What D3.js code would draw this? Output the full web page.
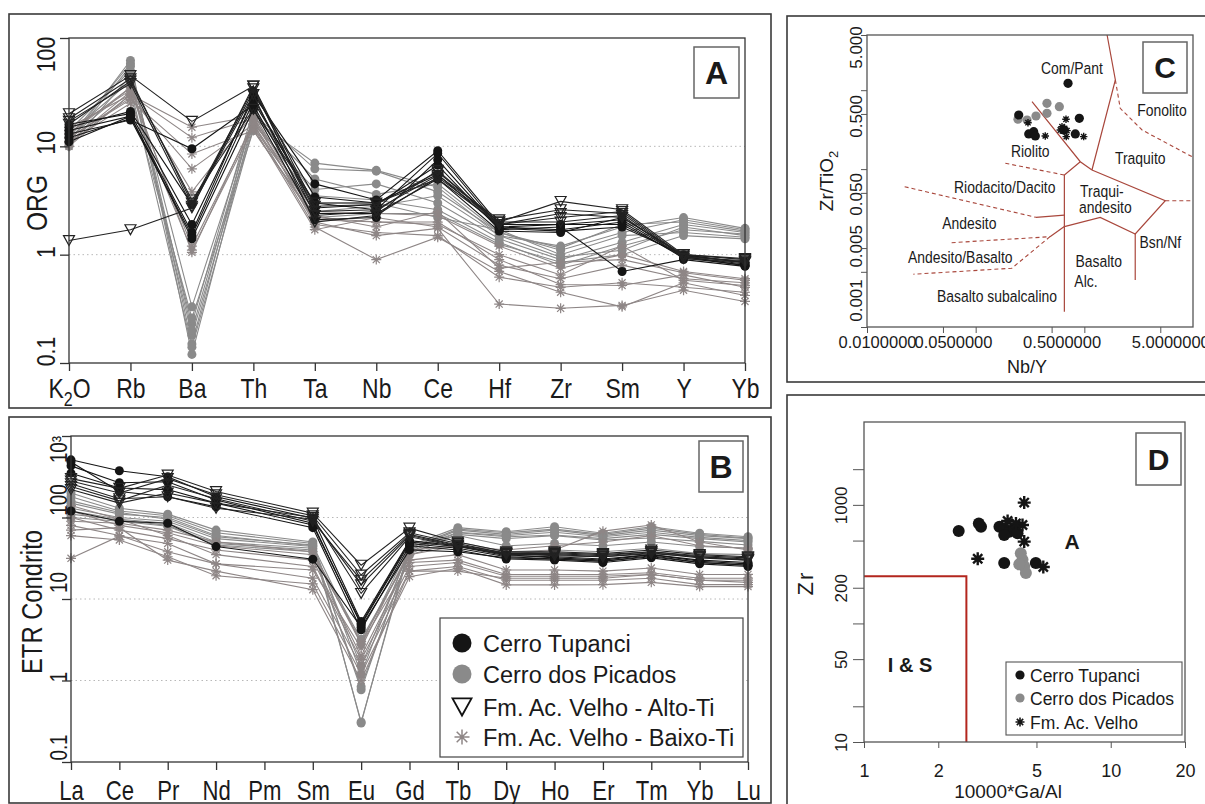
<!DOCTYPE html>
<html>
<head>
<meta charset="utf-8">
<script src="https://cdn.jsdelivr.net/npm/d3@7"></script>
<style>
  body { margin: 0; background: #fff; }
  svg text { font-family: 'Liberation Sans', Arial, sans-serif; fill: #1a1a1a; }
</style>
</head>
<body>
<div id="chart"></div>
<script>
// ---------- data: panel A (ORG normalised spider) ----------
var orgElements = ["K2O", "Rb", "Ba", "Th", "Ta", "Nb", "Ce", "Hf", "Zr", "Sm", "Y", "Yb"];

var orgTupanci = [
  [14, 19, 1.6, 30, 4.5, 3.2, 9.1, 1.9, 1.9, 2.1, 0.95, 0.82],
  [12, 18, 1.5, 26, 3.0, 2.6, 8.6, 1.8, 1.7, 2.0, 0.93, 0.80],
  [16, 20, 1.9, 28, 2.7, 2.9, 6.7, 1.7, 1.8, 0.70, 0.90, 0.78],
  [13, 17.5, 9.5, 24, 2.4, 2.4, 5.0, 1.65, 1.6, 2.2, 0.98, 0.85],
  [15, 21, 2.9, 32, 3.4, 3.0, 5.5, 1.8, 1.9, 1.9, 0.96, 0.79],
  [11, 19, 1.4, 22, 2.1, 2.2, 7.5, 1.75, 1.65, 1.8, 1.0, 0.84]
];
var orgPicados = [
  [11, 62, 0.12, 18, 7.0, 6.0, 4.2, 1.5, 1.2, 1.8, 2.2, 1.75],
  [12, 58, 0.15, 20, 6.2, 5.9, 3.8, 1.6, 1.1, 1.6, 2.1, 1.7],
  [10, 45, 0.18, 16, 4.0, 4.5, 3.0, 1.4, 0.9, 1.3, 1.9, 1.6],
  [13, 40, 0.23, 22, 3.5, 3.2, 2.6, 1.3, 0.8, 1.2, 1.7, 1.55],
  [14, 50, 0.33, 18, 3.0, 3.0, 2.2, 1.7, 1.0, 1.5, 1.6, 1.45],
  [12, 35, 0.14, 15, 2.5, 2.8, 3.5, 1.5, 0.95, 1.1, 1.8, 1.5],
  [11, 55, 0.20, 19, 5.0, 3.6, 4.5, 1.6, 1.15, 1.9, 2.0, 1.65],
  [10.5, 30, 0.26, 14, 2.2, 2.4, 2.4, 1.25, 0.85, 1.0, 1.5, 1.4]
];
var orgAltoTi = [
  [20, 45, 17, 36, 2.8, 2.9, 5.8, 2.0, 3.1, 2.6, 1.0, 0.9],
  [18, 42, 3.0, 34, 2.5, 2.6, 5.4, 2.1, 2.6, 2.4, 0.95, 0.88],
  [1.35, 1.7, 2.7, 36, 2.3, 2.5, 6.0, 1.9, 2.2, 2.5, 0.97, 0.86],
  [16, 40, 3.2, 22, 3.0, 3.0, 5.0, 1.9, 2.4, 2.2, 1.0, 0.92],
  [17, 38, 2.8, 30, 2.0, 2.3, 5.2, 2.0, 2.0, 2.3, 0.92, 0.85]
];
var orgBaixoTi = [
  [10, 30, 12, 18, 2.0, 1.5, 1.75, 0.35, 0.32, 0.34, 0.47, 0.37],
  [12, 28, 6.2, 16, 1.8, 0.9, 1.45, 0.7, 0.45, 0.33, 0.55, 0.42],
  [14, 33, 3.8, 20, 2.2, 2.0, 2.0, 0.9, 0.53, 0.52, 0.65, 0.5],
  [11, 25, 1.1, 15, 1.7, 2.2, 1.8, 0.8, 0.6, 0.8, 0.6, 0.55],
  [13, 35, 1.05, 17, 2.5, 2.4, 2.3, 1.2, 0.75, 1.0, 0.7, 0.6],
  [15, 30, 15, 19, 1.9, 1.6, 1.5, 0.62, 0.5, 0.55, 0.5, 0.45],
  [12, 27, 8.5, 14, 2.1, 2.0, 1.9, 1.0, 0.65, 1.2, 0.58, 0.52],
  [11, 32, 1.2, 16, 2.3, 1.8, 2.5, 0.75, 0.85, 0.9, 0.68, 0.58]
];

// ---------- data: panel B (chondrite normalised REE) ----------
var reeElements = ["La", "Ce", "Pr", "Nd", "Pm", "Sm", "Eu", "Gd", "Tb", "Dy", "Ho", "Er", "Tm", "Yb", "Lu"];

var reeTupanci = [
  [510, 375, 317, 180, null, 98, 5.3, 52, 45, 35, 32, 30, 35, 29, 27],
  [430, 267, 275, 164, null, 85, 4.8, 48, 42, 33, 31, 29, 33, 28, 26],
  [480, 208, 180, 135, null, 75, 4.2, 45, 40, 31, 30, 28, 32, 27, 25],
  [120, 90, 85, 44, null, 30.7, 4.5, 40, 38, 32, 31, 29, 34, 28, 26],
  [350, 230, 220, 150, null, 81, 5.0, 50, 44, 34, 33, 31, 35, 30, 28]
];
var reePicados = [
  [200, 130, 110, 70, null, 50, 0.30, 45, 75, 67, 77, 64, 77, 64, 58],
  [150, 110, 100, 60, null, 45, 0.31, 40, 70, 62, 70, 60, 70, 60, 55],
  [120, 95, 85, 50, null, 42, 0.77, 38, 65, 58, 61, 55, 62, 55, 50],
  [110, 93, 80, 48, null, 40, 0.84, 36, 62, 55, 60, 53, 56, 51, 46],
  [180, 120, 105, 65, null, 48, 1.2, 42, 72, 65, 72, 62, 74, 62, 56],
  [130, 100, 90, 55, null, 44, 1.5, 40, 66, 60, 66, 58, 66, 57, 52],
  [160, 115, 95, 58, null, 46, 2.8, 44, 60, 45, 48, 45, 50, 44, 42],
  [100, 90, 78, 46, null, 38, 3.2, 35, 50, 38, 40, 38, 42, 36, 35]
];
var reeAltoTi = [
  [300, 228, 332, 208, null, 113, 26, 74, 50, 38, 38, 36, 40, 35, 33],
  [280, 200, 300, 190, null, 105, 19.7, 65, 48, 36, 36, 34, 38, 33, 31],
  [260, 170, 180, 130, null, 95, 14.9, 60, 45, 35, 35, 33, 37, 32, 30],
  [220, 150, 200, 150, null, 100, 11.7, 58, 44, 36, 34, 33, 36, 33, 30],
  [240, 160, 250, 170, null, 90, 17, 62, 46, 37, 37, 35, 38, 34, 32]
];
var reeBaixoTi = [
  [31.6, 59, 48, 27, null, 22.7, 2.5, 40, 45, 35, 40, 68, 81, 50, 40],
  [60, 53, 33, 19.3, null, 15.3, 1.2, 18.8, 23.8, 14.9, 14.9, 15, 16, 14.2, 14.2],
  [80, 60, 38, 27, null, 18, 1.5, 22, 25, 17, 17, 17, 18, 15, 15],
  [100, 70, 55, 40, null, 30, 2.0, 30, 35, 22.7, 22.7, 22, 24, 20, 20],
  [120, 80, 65, 45, null, 35, 3.0, 35, 45, 40, 45, 50, 60, 45, 42],
  [70, 75, 30, 22, null, 13, 1.0, 22, 22, 18, 18, 18, 20, 17, 16],
  [90, 85, 70, 50, null, 38, 2.8, 28, 30, 20, 20, 20, 21, 18, 18],
  [140, 95, 60, 35, null, 25, 1.8, 25, 28, 19, 19, 19, 20, 17, 17]
];

// ---------- data: panel C (Nb/Y vs Zr/TiO2) ----------
var cTupanciX = [0.708, 0.899, 0.249, 0.308, 0.342, 0.354, 0.826, 0.646];
var cTupanciY = [1.22, 0.44, 0.485, 0.279, 0.298, 0.263, 0.279, 0.313];
var cPicadosX = [0.453, 0.589, 0.453, 0.359, 0.297, 0.245];
var cPicadosY = [0.682, 0.618, 0.509, 0.471, 0.419, 0.428];
var cVelhoX = [0.303, 0.437, 0.678, 0.623, 0.659, 0.692, 0.682, 0.986, 0.601];
var cVelhoY = [0.387, 0.263, 0.428, 0.344, 0.329, 0.307, 0.258, 0.258, 0.313];

// field boundaries (Nb/Y, Zr/TiO2)
var fieldSolid = [
  [[0.33, 0.714], [0.918, 0.124], [1.175, 0.0975]],
  [[1.62, 5], [1.93, 1.35], [1.175, 0.0975]],
  [[1.175, 0.0975], [5.56, 0.0398], [2.94, 0.01506], [1.40, 0.0245], [0.655, 0.0187]],
  [[0.918, 0.124], [0.655, 0.0842], [0.655, 0.00156]],
  [[2.94, 0.01506], [2.94, 0.00394]],
  [[0.359, 0.0245], [0.655, 0.0262]],
  [[0.483, 0.01393], [0.655, 0.0187]]
];
var fieldDashed = [
  [[0.1875, 0.1186], [0.655, 0.0842]],
  [[0.0222, 0.0598], [0.359, 0.0245]],
  [[0.0601, 0.0117], [0.483, 0.01393]],
  [[0.483, 0.01393], [0.215, 0.00555], [0.0267, 0.00466]],
  [[1.93, 1.35], [2.14, 0.589], [3.40, 0.313], [9.8, 0.1436]],
  [[5.56, 0.0398], [10, 0.0398]]
];
var fieldNames = ["Com/Pant", "Fonolito", "Riolito", "Traquito", "Riodacito/Dacito", "Traqui-", "andesito",
  "Andesito", "Bsn/Nf", "Andesito/Basalto", "Basalto", "Alc.", "Basalto subalcalino"];
var fieldNameX = [0.769, 5.18, 0.318, 3.27, 0.185, 1.45, 1.56, 0.0874, 5.0, 0.0722, 1.355, 1.035, 0.157];
var fieldNameY = [1.89, 0.561, 0.171, 0.1396, 0.0589, 0.0530, 0.0330, 0.0206, 0.01205, 0.00778, 0.00692, 0.00385, 0.00249];

// ---------- data: panel D (Ga/Al vs Zr) ----------
var dTupanciX = [2.42, 2.92, 2.98, 3.54, 3.70, 3.88, 4.06, 4.19, 3.70, 3.70, 4.97];
var dTupanciY = [602, 698, 655, 655, 626, 594, 634, 575, 558, 323, 323];
var dPicadosX = [4.32, 4.39, 4.46, 4.53, 4.26];
var dPicadosY = [391, 345, 303, 266, 315];
var dVelhoX = [4.46, 3.82, 4.39, 4.46, 2.89, 5.33, 4.13];
var dVelhoY = [1045, 731, 676, 490, 351, 299, 698];
var isBoundary = [[1, 250], [2.6, 250], [2.6, 10]];

// ---------- drawing ----------
var BLACK = "#151515", GREY = "#8a8a8a", STARGREY = "#8e8686", FIELD = "#a9473c", FIELDTXT = "#9c2a24", RED = "#b3261e";
var NARROW = " scale(0.82,1)";   // condensed look of the original lettering

var svg = d3.select("#chart").append("svg")
  .attr("width", 1205)
  .attr("height", 804);

// outer panel boxes
[[9, 14, 762, 394], [9, 417, 762, 386], [787, 16, 440, 366], [787, 395, 440, 430]].forEach(function(b) {
  svg.append("rect").attr("x", b[0]).attr("y", b[1]).attr("width", b[2]).attr("height", b[3])
    .attr("fill", "none").attr("stroke", "#3a3a3a").attr("stroke-width", 1.6);
});

function marker(g, type, cx, cy, s, color, sw) {
  if (type === "circle") {
    g.append("circle").attr("cx", cx).attr("cy", cy).attr("r", s).attr("fill", color);
  } else if (type === "tri") {
    var h = s * 0.9;
    g.append("path")
      .attr("d", "M" + (cx - s / 2) + "," + (cy - h / 2) + "L" + (cx + s / 2) + "," + (cy - h / 2) + "L" + cx + "," + (cy + h / 2) + "Z")
      .attr("fill", "none").attr("stroke", color).attr("stroke-width", sw || 1.2);
  } else {
    var r = s / 2, d = "";
    [0, 45, 90, 135].forEach(function(a) {
      var rad = a * Math.PI / 180, dx = r * Math.cos(rad), dy = r * Math.sin(rad);
      d += "M" + (cx - dx) + "," + (cy - dy) + "L" + (cx + dx) + "," + (cy + dy);
    });
    g.append("path").attr("d", d).attr("stroke", color).attr("stroke-width", sw || 1.2).attr("fill", "none");
  }
}

function letterBox(x, y, w, h, letter, size) {
  svg.append("rect").attr("x", x).attr("y", y).attr("width", w).attr("height", h)
    .attr("fill", "#fff").attr("stroke", "#666").attr("stroke-width", 1.5);
  svg.append("text").attr("x", x + w / 2).attr("y", y + h / 2 + size * 0.36)
    .attr("text-anchor", "middle").attr("font-size", size).attr("font-weight", "bold").text(letter);
}

// spider diagram (panels A and B)
function spider(cfg) {
  var x = d3.scalePoint().domain(cfg.cats).range([cfg.x0, cfg.x1]);
  var y = d3.scaleLog().domain(cfg.domain).range([cfg.y1, cfg.y0]);
  var g = svg.append("g");

  g.selectAll(".grid").data(cfg.grid).enter().append("line")
    .attr("x1", cfg.x0).attr("x2", cfg.x1)
    .attr("y1", function(d) { return y(d); }).attr("y2", function(d) { return y(d); })
    .attr("stroke", "#b8b8b8").attr("stroke-dasharray", "1.5,3");

  var line = d3.line().x(function(p) { return x(p[0]); }).y(function(p) { return y(p[1]); });

  cfg.groups.forEach(function(grp) {
    grp.rows.forEach(function(row) {
      var pts = row.map(function(v, i) { return [cfg.cats[i], v]; })
        .filter(function(p) { return p[1] != null; });
      g.append("path").datum(pts).attr("d", line)
        .attr("fill", "none").attr("stroke", grp.line).attr("stroke-width", 1.1);
      pts.forEach(function(p) { marker(g, grp.marker, x(p[0]), y(p[1]), grp.size, grp.color); });
    });
  });

  // frame
  g.append("rect").attr("x", cfg.x0).attr("y", cfg.y0)
    .attr("width", cfg.x1 - cfg.x0).attr("height", cfg.y1 - cfg.y0)
    .attr("fill", "none").attr("stroke", "#333").attr("stroke-width", 1.3);

  // left axis
  var ya = g.append("g").attr("transform", "translate(" + cfg.x0 + ",0)")
    .call(d3.axisLeft(y).tickValues(cfg.ticks).tickSize(cfg.tickLen).tickFormat(cfg.tickFormat));
  ya.select(".domain").remove();
  ya.selectAll("line").attr("stroke", "#333").attr("stroke-width", 1.3);
  ya.selectAll("text")
    .attr("x", 0).attr("dy", null).attr("y", 0)
    .attr("text-anchor", "middle")
    .attr("font-size", cfg.tickFont)
    .attr("fill", "#1a1a1a")
    .attr("transform", function(d) { return "translate(" + cfg.labelX + "," + (cfg.shift[d] || 0) + ") rotate(-90)" + NARROW; });

  // bottom axis
  var xa = g.append("g").attr("transform", "translate(0," + cfg.y1 + ")")
    .call(d3.axisBottom(x).tickSize(8));
  xa.select(".domain").remove();
  xa.selectAll("line").attr("stroke", "#333").attr("stroke-width", 1.3);
  xa.selectAll("text")
    .attr("y", cfg.catY - cfg.y1).attr("dy", null)
    .attr("font-size", cfg.catFont)
    .attr("fill", "#1a1a1a")
    .attr("transform", NARROW)
    .each(function(d) {
      if (d === "K2O") {
        var t = d3.select(this).text("K");
        t.append("tspan").attr("dy", 8).attr("font-size", cfg.catFont * 0.7).text("2");
        t.append("tspan").attr("dy", -8).text("O");
      }
    });

  // axis title
  svg.append("text")
    .attr("transform", "translate(" + cfg.titleX + "," + cfg.titleY + ") rotate(-90)" + NARROW)
    .attr("text-anchor", "middle").attr("font-size", cfg.titleFont).text(cfg.title);
  return { x: x, y: y };
}

var groupsStyle = function(t, p, a, b) {
  return [
    { rows: p, marker: "circle", color: GREY, line: GREY, size: 4.5 },
    { rows: b, marker: "star", color: STARGREY, line: STARGREY, size: 10 },
    { rows: t, marker: "circle", color: BLACK, line: BLACK, size: 4.5 },
    { rows: a, marker: "tri", color: "#222", line: "#222", size: 11 }
  ];
};

spider({
  cats: orgElements, domain: [0.1, 100], x0: 69, x1: 745, y0: 38, y1: 363,
  grid: [1, 10], ticks: [0.1, 1, 10, 100], tickLen: 9,
  tickFormat: function(d) { return d < 1 ? "0.1" : String(d); },
  shift: { 100: 16, 10: -4, 1: -3, 0.1: -12 }, labelX: -14, tickFont: 26,
  catY: 398, catFont: 28,
  title: "ORG", titleX: 47, titleY: 203, titleFont: 30,
  groups: groupsStyle(orgTupanci, orgPicados, orgAltoTi, orgBaixoTi)
});
letterBox(694, 47, 45, 51, "A", 32);

spider({
  cats: reeElements, domain: [0.1, 1000], x0: 71, x1: 748, y0: 436, y1: 762,
  grid: [1, 10, 100], ticks: [0.1, 1, 10, 100, 1000], tickLen: 9,
  tickFormat: function(d) { return d === 1000 ? "10³" : (d < 1 ? "0.1" : String(d)); },
  shift: { 1000: 13, 100: -18, 10: -17, 1: -4, 0.1: -15 }, labelX: -4, tickFont: 23,
  catY: 800, catFont: 27,
  title: "ETR Condrito", titleX: 42, titleY: 602, titleFont: 29,
  groups: groupsStyle(reeTupanci, reePicados, reeAltoTi, reeBaixoTi)
});
letterBox(699, 441, 44, 51, "B", 32);

// legend B
var legB = svg.append("g");
legB.append("rect").attr("x", 440).attr("y", 618).attr("width", 303).attr("height", 139)
  .attr("fill", "#fff").attr("stroke", "#444").attr("stroke-width", 1.2);
var legBItems = ["Cerro Tupanci", "Cerro dos Picados", "Fm. Ac. Velho - Alto-Ti", "Fm. Ac. Velho - Baixo-Ti"];
var legBRows = [643, 674, 707, 737];
legBItems.forEach(function(name, i) {
  if (i === 0) marker(legB, "circle", 462, legBRows[i], 9.5, BLACK);
  if (i === 1) marker(legB, "circle", 462, legBRows[i], 9.5, GREY);
  if (i === 2) marker(legB, "tri", 462, legBRows[i], 19, "#111", 1.8);
  if (i === 3) marker(legB, "star", 462, legBRows[i], 15, STARGREY, 1.5);
  legB.append("text").attr("x", 483).attr("y", legBRows[i] + 8.5)
    .attr("font-size", 23.5).text(name);
});

// ---------- panel C ----------
var xC = d3.scaleLog().domain([0.01, 10]).range([867, 1193]);
var yC = d3.scaleLog().domain([0.001, 5]).range([327, 35]);
var gC = svg.append("g");
var lineC = d3.line().x(function(p) { return xC(p[0]); }).y(function(p) { return yC(p[1]); });

fieldSolid.forEach(function(seg) {
  gC.append("path").datum(seg).attr("d", lineC).attr("fill", "none")
    .attr("stroke", FIELD).attr("stroke-width", 1.2);
});
fieldDashed.forEach(function(seg) {
  gC.append("path").datum(seg).attr("d", lineC).attr("fill", "none")
    .attr("stroke", FIELD).attr("stroke-width", 1.1).attr("stroke-dasharray", "4,3");
});
fieldNames.forEach(function(name, i) {
  gC.append("text")
    .attr("transform", "translate(" + xC(fieldNameX[i]) + "," + yC(fieldNameY[i]) + ")" + NARROW)
    .attr("dy", "0.36em").attr("text-anchor", "middle")
    .attr("font-size", 17).attr("fill", FIELDTXT).text(name);
});

cPicadosX.forEach(function(v, i) { marker(gC, "circle", xC(v), yC(cPicadosY[i]), 4.6, GREY); });
cTupanciX.forEach(function(v, i) { marker(gC, "circle", xC(v), yC(cTupanciY[i]), 4.6, BLACK); });
cVelhoX.forEach(function(v, i) { marker(gC, "star", xC(v), yC(cVelhoY[i]), 7.5, BLACK, 1.4); });

gC.append("rect").attr("x", 867).attr("y", 35).attr("width", 326).attr("height", 292)
  .attr("fill", "none").attr("stroke", "#555").attr("stroke-width", 1.3);

var cYLabels = { 5: "5.000", 0.5: "0.500", 0.05: "0.050", 0.005: "0.005", 0.001: "0.001" };
var cYShift = { 5: 12, 0.5: 2, 0.05: 1, 0.005: -26, 0.001: -27 };
var yaC = gC.append("g").attr("transform", "translate(867,0)")
  .call(d3.axisLeft(yC).tickValues([0.001, 0.005, 0.01, 0.05, 0.1, 0.5, 1, 5]).tickSize(6)
    .tickFormat(function(d) { return cYLabels[d] || ""; }));
yaC.select(".domain").remove();
yaC.selectAll("line").attr("stroke", "#555");
yaC.selectAll("text").attr("x", 0).attr("y", 0).attr("dy", null)
  .attr("text-anchor", "middle").attr("font-size", 17).attr("fill", "#1a1a1a")
  .attr("transform", function(d) { return "translate(-5," + (cYShift[d] || 0) + ") rotate(-90)"; });

var cXLabels = { 0.01: "0.0100000", 0.05: "0.0500000", 0.5: "0.5000000", 5: "5.0000000" };
var xaC = gC.append("g").attr("transform", "translate(0,327)")
  .call(d3.axisBottom(xC).tickValues([0.01, 0.05, 0.1, 0.5, 1, 5]).tickSize(6)
    .tickFormat(function(d) { return cXLabels[d] || ""; }));
xaC.select(".domain").remove();
xaC.selectAll("line").attr("stroke", "#555");
xaC.selectAll("text").attr("y", 21).attr("dy", null).attr("dx", 10)
  .attr("font-size", 16.5).attr("fill", "#1a1a1a");

svg.append("text").attr("x", 1027).attr("y", 373).attr("text-anchor", "middle")
  .attr("font-size", 18).text("Nb/Y");
var zt = svg.append("text").attr("transform", "translate(833,181) rotate(-90)")
  .attr("text-anchor", "middle").attr("font-size", 19).text("Zr/TiO");
zt.append("tspan").attr("dy", 5).attr("font-size", 13).text("2");
letterBox(1143, 42, 44, 51, "C", 30);

// ---------- panel D ----------
var xD = d3.scaleLog().domain([1, 20]).range([864, 1185]);
var yD = d3.scaleLog().domain([10, 5000]).range([742, 422]);
var gD = svg.append("g");

gD.append("path").datum(isBoundary)
  .attr("d", d3.line().x(function(p) { return xD(p[0]); }).y(function(p) { return yD(p[1]); }))
  .attr("fill", "none").attr("stroke", RED).attr("stroke-width", 2);

dTupanciX.forEach(function(v, i) { marker(gD, "circle", xD(v), yD(dTupanciY[i]), 6, BLACK); });
dPicadosX.forEach(function(v, i) { marker(gD, "circle", xD(v), yD(dPicadosY[i]), 6, GREY); });
dVelhoX.forEach(function(v, i) { marker(gD, "star", xD(v), yD(dVelhoY[i]), 13, BLACK, 2.4); });

gD.append("rect").attr("x", 864).attr("y", 422).attr("width", 321).attr("height", 320)
  .attr("fill", "none").attr("stroke", "#555").attr("stroke-width", 1.3);

var dYLabels = { 10: "10", 50: "50", 200: "200", 1000: "1000" };
var yaD = gD.append("g").attr("transform", "translate(864,0)")
  .call(d3.axisLeft(yD).tickValues([10, 20, 50, 100, 200, 500, 1000, 2000]).tickSize(11)
    .tickFormat(function(d) { return dYLabels[d] || ""; }));
yaD.select(".domain").remove();
yaD.selectAll("line").attr("stroke", "#555");
yaD.selectAll("text").attr("x", 0).attr("y", 0).attr("dy", null)
  .attr("text-anchor", "middle").attr("font-size", 17).attr("fill", "#1a1a1a")
  .attr("transform", "translate(-17,0) rotate(-90)");

var xaD = gD.append("g").attr("transform", "translate(0,742)")
  .call(d3.axisBottom(xD).tickValues([1, 2, 5, 10, 20]).tickSize(6).tickFormat(d3.format("d")));
xaD.select(".domain").remove();
xaD.selectAll("line").attr("stroke", "#555");
xaD.selectAll("text").attr("y", 35).attr("dy", null)
  .attr("font-size", 18).attr("fill", "#1a1a1a");

svg.append("text").attr("x", 1008).attr("y", 798).attr("text-anchor", "middle")
  .attr("font-size", 19).text("10000*Ga/Al");
svg.append("text").attr("transform", "translate(813,583) rotate(-90)")
  .attr("text-anchor", "middle").attr("font-size", 22).attr("letter-spacing", 2).text("Zr");
svg.append("text").attr("x", 1072).attr("y", 549).attr("text-anchor", "middle")
  .attr("font-size", 21).attr("font-weight", "bold").attr("fill", RED).text("A");
svg.append("text").attr("x", 910).attr("y", 672).attr("text-anchor", "middle")
  .attr("font-size", 20).attr("font-weight", "bold").attr("fill", RED).text("I & S");
letterBox(1136, 433, 45, 52, "D", 30);

// legend D
var legD = svg.append("g");
legD.append("rect").attr("x", 1006).attr("y", 662).attr("width", 176).attr("height", 73)
  .attr("fill", "#fff").attr("stroke", "#555").attr("stroke-width", 1.1);
var legDItems = ["Cerro Tupanci", "Cerro dos Picados", "Fm. Ac. Velho"];
var legDRows = [675, 698, 722];
legDItems.forEach(function(name, i) {
  if (i === 0) marker(legD, "circle", 1020, legDRows[i], 4.6, BLACK);
  if (i === 1) marker(legD, "circle", 1020, legDRows[i], 4.6, GREY);
  if (i === 2) marker(legD, "star", 1020, legDRows[i], 9, BLACK, 1.6);
  legD.append("text").attr("x", 1030).attr("y", legDRows[i] + 6.5)
    .attr("font-size", 17.5).text(name);
});
</script>
</body>
</html>
